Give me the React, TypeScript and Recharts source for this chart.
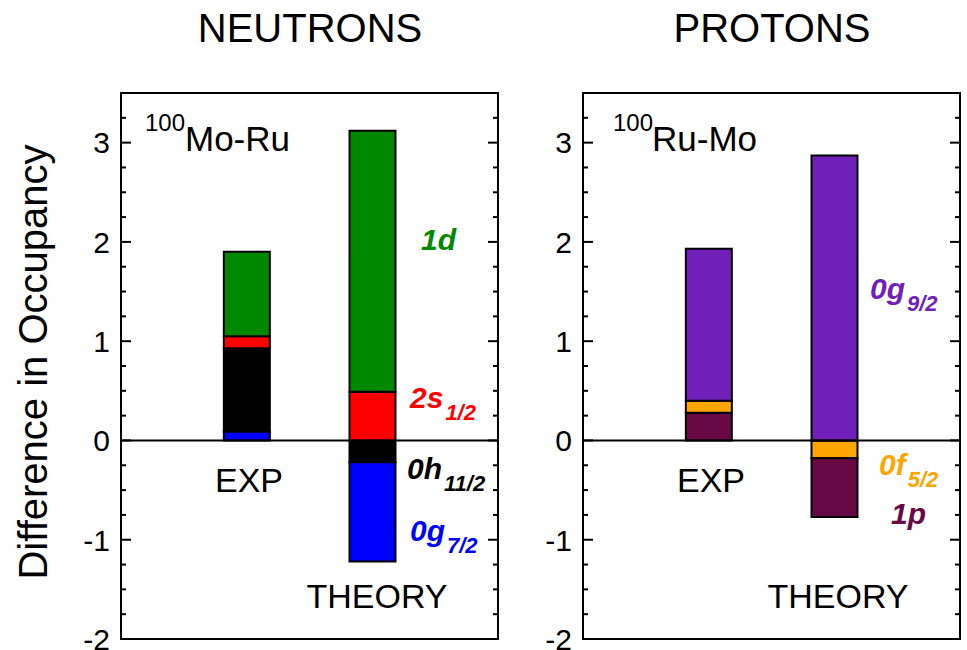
import React from 'react';
import { BarChart, Bar, XAxis, YAxis, ReferenceLine, ReferenceArea } from 'recharts';

// ---------- data ----------
const columns = ['EXP', 'THEORY'];
const columnX = [1, 2];

// Neutrons (100Mo - 100Ru): stacked segments, bottom (nearest zero) first
const neutronExpKeys = ['g72', 'h112', 's12', 'd'];
const neutronExpValues = [0.09, 0.84, 0.12, 0.85];
const neutronTheoryKeys = ['h112', 'g72', 's12', 'd'];
const neutronTheoryValues = [-0.22, -1.0, 0.49, 2.63];

// Protons (100Ru - 100Mo)
const protonExpKeys = ['p', 'f52', 'g92'];
const protonExpValues = [0.28, 0.12, 1.53];
const protonTheoryKeys = ['f52', 'p', 'g92'];
const protonTheoryValues = [-0.18, -0.59, 2.87];

const orbitalColors: Record<string, string> = {
  g72: '#0000FF',
  h112: '#000000',
  s12: '#FF0000',
  d: '#008800',
  g92: '#7020B8',
  f52: '#FFA500',
  p: '#680844',
};

const yTicks = [-2, -1.75, -1.5, -1.25, -1, -0.75, -0.5, -0.25, 0, 0.25, 0.5, 0.75, 1, 1.25, 1.5, 1.75, 2, 2.25, 2.5, 2.75, 3, 3.25];
const yDomain = [-2, 3.5];
const xDomain = [0, 3];

// ---------- build table ----------
function buildRows(expKeys: string[], expVals: number[], thKeys: string[], thVals: number[]) {
  const rowExp: any = { name: columns[0], x: columnX[0] };
  expKeys.forEach((k, i) => (rowExp['exp_' + k] = expVals[i]));
  const rowTh: any = { name: columns[1], x: columnX[1] };
  thKeys.forEach((k, i) => (rowTh['th_' + k] = thVals[i]));
  return [rowExp, rowTh];
}

const neutronRows = buildRows(neutronExpKeys, neutronExpValues, neutronTheoryKeys, neutronTheoryValues);
const protonRows = buildRows(protonExpKeys, protonExpValues, protonTheoryKeys, protonTheoryValues);

// ---------- layout ----------
const FONT = '"Liberation Sans", Arial, Helvetica, sans-serif';
const CH_W = 520;
const CH_H = 650;
const MARGIN = { top: 93, bottom: 11, left: 61, right: 22 };
const YAXIS_W = 60;
const PLOT_W = CH_W - MARGIN.left - MARGIN.right - YAXIS_W;

const TickWithInward = (props: any) => {
  const { x, y, payload } = props;
  const v = payload.value as number;
  const major = Number.isInteger(v);
  const len = major ? 10 : 5;
  return (
    <g>
      <line x1={x} x2={x + len} y1={y} y2={y} stroke="#000" strokeWidth={2} />
      <line x1={x + PLOT_W} x2={x + PLOT_W - len} y1={y} y2={y} stroke="#000" strokeWidth={2} />
      {major && (
        <text x={x - 11} y={y} dy="0.36em" textAnchor="end" fontSize={30} fontFamily={FONT} fill="#000">
          {String(v)}
        </text>
      )}
    </g>
  );
};

function Panel({ rows, expKeys, thKeys }: { rows: any[]; expKeys: string[]; thKeys: string[] }) {
  return (
    <BarChart width={CH_W} height={CH_H} data={rows} margin={MARGIN} stackOffset="sign" barSize={46}>
      <XAxis dataKey="x" type="number" domain={xDomain} hide />
      <YAxis
        type="number"
        domain={yDomain}
        ticks={yTicks}
        interval={0}
        width={YAXIS_W}
        tickSize={0}
        tickMargin={0}
        axisLine={false}
        tickLine={false}
        tick={<TickWithInward />}
        allowDataOverflow
      />
      {expKeys.map((k) => (
        <Bar
          key={'exp_' + k}
          dataKey={'exp_' + k}
          stackId="s"
          fill={orbitalColors[k]}
          stroke="#000"
          strokeWidth={2}
          isAnimationActive={false}
        />
      ))}
      {thKeys.map((k) => (
        <Bar
          key={'th_' + k}
          dataKey={'th_' + k}
          stackId="s"
          fill={orbitalColors[k]}
          stroke="#000"
          strokeWidth={2}
          isAnimationActive={false}
        />
      ))}
      <ReferenceLine y={0} stroke="#000" strokeWidth={2} />
      <ReferenceArea
        x1={xDomain[0]}
        x2={xDomain[1]}
        y1={yDomain[0]}
        y2={yDomain[1]}
        fill="none"
        fillOpacity={0}
        stroke="#000"
        strokeWidth={2}
      />
    </BarChart>
  );
}

const Orb = ({ x, y, main, sub, color }: { x: number; y: number; main: string; sub?: string; color: string }) => (
  <text x={x} y={y} fill={color} fontFamily={FONT} fontWeight="bold" fontStyle="italic" fontSize={30}>
    {main}
    {sub && (
      <tspan dx={2} dy={12} fontSize={22}>
        {sub}
      </tspan>
    )}
  </text>
);

export default function App() {
  return (
    <div style={{ position: 'absolute', left: 0, top: 0, width: 967, height: 650, background: '#fff' }}>
      <div style={{ position: 'absolute', left: 0, top: 0 }}>
        <Panel rows={neutronRows} expKeys={neutronExpKeys} thKeys={neutronTheoryKeys} />
      </div>
      <div style={{ position: 'absolute', left: 462, top: 0 }}>
        <Panel rows={protonRows} expKeys={protonExpKeys} thKeys={protonTheoryKeys} />
      </div>
      <svg width={967} height={650} style={{ position: 'absolute', left: 0, top: 0, pointerEvents: 'none' }}>
        <g fontFamily={FONT} fill="#000">
          <text x={310} y={42} fontSize={40} textAnchor="middle">NEUTRONS</text>
          <text x={772} y={42} fontSize={40} textAnchor="middle">PROTONS</text>
          <text transform="translate(47,362) rotate(-90)" fontSize={40} textAnchor="middle">
            Difference in Occupancy
          </text>

          <text x={145} y={131} fontSize={24}>100</text>
          <text x={185} y={151} fontSize={35}>Mo-Ru</text>
          <text x={613} y={131} fontSize={24}>100</text>
          <text x={652} y={151} fontSize={35}>Ru-Mo</text>

          <text x={249} y={492} fontSize={34} textAnchor="middle">EXP</text>
          <text x={377} y={608} fontSize={34} textAnchor="middle">THEORY</text>
          <text x={711} y={492} fontSize={34} textAnchor="middle">EXP</text>
          <text x={838} y={608} fontSize={34} textAnchor="middle">THEORY</text>
        </g>
        <Orb x={421} y={250} main="1d" color={orbitalColors.d} />
        <Orb x={410} y={408} main="2s" sub="1/2" color={orbitalColors.s12} />
        <Orb x={407} y={479} main="0h" sub="11/2" color={orbitalColors.h112} />
        <Orb x={410} y={541} main="0g" sub="7/2" color={orbitalColors.g72} />
        <Orb x={870} y={299} main="0g" sub="9/2" color={orbitalColors.g92} />
        <Orb x={879} y={475} main="0f" sub="5/2" color={orbitalColors.f52} />
        <Orb x={891} y={524} main="1p" color={orbitalColors.p} />
      </svg>
    </div>
  );
}
